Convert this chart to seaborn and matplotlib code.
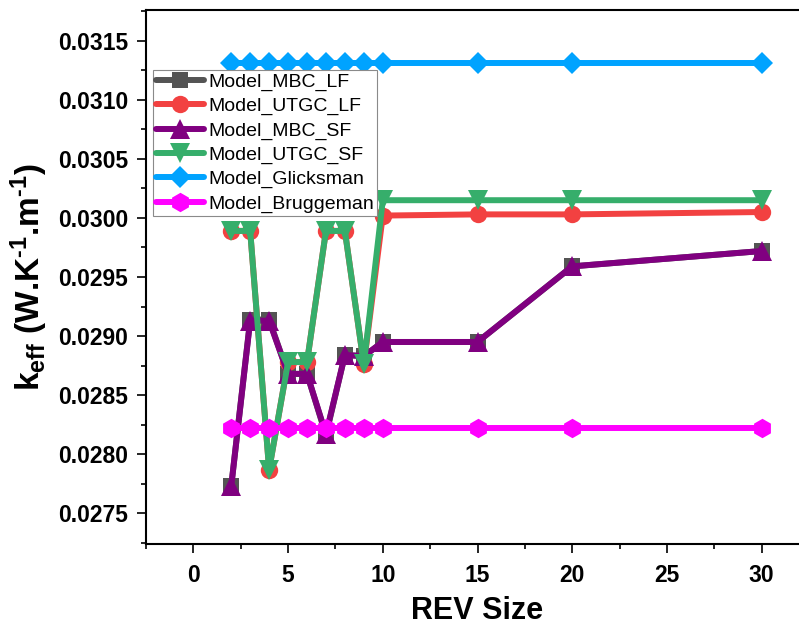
import numpy as np
import pandas as pd
import matplotlib
matplotlib.use("Agg")
import matplotlib.pyplot as plt
from matplotlib.ticker import AutoMinorLocator, FormatStrFormatter
import seaborn as sns

# REV sizes and effective conductivity of each model
rev_size = [2, 3, 4, 5, 6, 7, 8, 9, 10, 15, 20, 30]

model_mbc_lf = [0.02773, 0.02914, 0.02914, 0.02868, 0.02868, 0.02816, 0.02884, 0.02883, 0.02895, 0.02895, 0.02959, 0.02972]
model_utgc_lf = [0.02989, 0.02989, 0.02787, 0.02878, 0.02878, 0.02989, 0.02989, 0.02876, 0.03002, 0.03003, 0.03003, 0.03005]
model_mbc_sf = [0.02773, 0.02913, 0.02913, 0.02868, 0.02868, 0.02817, 0.02884, 0.02883, 0.02895, 0.02895, 0.02959, 0.02972]
model_utgc_sf = [0.02989, 0.02989, 0.02787, 0.02878, 0.02878, 0.02989, 0.02989, 0.02876, 0.03015, 0.03015, 0.03015, 0.03015]
model_glicksman = [0.03131] * 12
model_bruggeman = [0.02822] * 12

series_names = ["Model_MBC_LF", "Model_UTGC_LF", "Model_MBC_SF",
                "Model_UTGC_SF", "Model_Glicksman", "Model_Bruggeman"]
series_values = [model_mbc_lf, model_utgc_lf, model_mbc_sf,
                 model_utgc_sf, model_glicksman, model_bruggeman]
colors = ["#545454", "#F24141", "#800080", "#36AE6B", "#00A3FF", "#FF00FF"]
markers = ["s", "o", "^", "v", "D", "h"]
marker_sizes = [12, 12.5, 14, 14, 11.5, 14]

y_ticks = [0.0275, 0.0280, 0.0285, 0.0290, 0.0295, 0.0300, 0.0305, 0.0310, 0.0315]
x_ticks = [0, 5, 10, 15, 20, 25, 30]

df = pd.DataFrame({
    "REV Size": rev_size * len(series_names),
    "keff": np.concatenate(series_values),
    "Model": np.repeat(series_names, len(rev_size)),
})

sns.set_style("ticks")
plt.rcParams["font.family"] = ["Liberation Sans", "DejaVu Sans"]
plt.rcParams["mathtext.fontset"] = "custom"
plt.rcParams["mathtext.bf"] = "Liberation Sans:bold"
plt.rcParams["mathtext.rm"] = "Liberation Sans:bold"
plt.rcParams["mathtext.default"] = "bf"
plt.rcParams["text.color"] = "black"
plt.rcParams["axes.labelcolor"] = "black"
plt.rcParams["xtick.color"] = "black"
plt.rcParams["ytick.color"] = "black"

W, H = 799, 633
fig = plt.figure(figsize=(W / 100, H / 100), dpi=100)
ax = fig.add_axes([146 / W, 1 - 544 / H, (809 - 146) / W, 534 / H])

for name, col, mk, ms in zip(series_names, colors, markers, marker_sizes):
    sub = df[df["Model"] == name]
    sns.lineplot(data=sub, x="REV Size", y="keff", ax=ax, color=col,
                 marker=mk, markersize=ms, markeredgewidth=0,
                 linewidth=4.3, label=name, estimator=None, sort=False)

ax.set_xlim(-2.5, 32.5)
ax.set_ylim(0.02724, 0.03176)
ax.set_xticks(x_ticks)
ax.xaxis.set_minor_locator(AutoMinorLocator(2))
ax.set_yticks(y_ticks)
ax.yaxis.set_minor_locator(AutoMinorLocator(2))
ax.yaxis.set_major_formatter(FormatStrFormatter("%.4f"))

ax.tick_params(axis="both", which="major", direction="out", length=6.7, width=1.2,
               labelsize=16.5, colors="black")
ax.tick_params(axis="x", which="major", pad=8)
ax.tick_params(axis="y", which="major", pad=6)
ax.tick_params(axis="both", which="minor", direction="out", length=3.8, width=1.2,
               colors="black")
for lab in ax.get_xticklabels() + ax.get_yticklabels():
    lab.set_fontweight("bold")
    lab.set_color("black")

for side in ["left", "bottom", "top", "right"]:
    ax.spines[side].set_visible(True)
    ax.spines[side].set_linewidth(1.5)
    ax.spines[side].set_color("black")

ax.set_xlabel("REV Size", fontsize=22, fontweight="bold", labelpad=6, color="black")
ax.set_ylabel(r"k$_{eff}$ (W.K$^{\text{-1}}$.m$^{\text{-1}}$)", fontsize=24,
              fontweight="bold", labelpad=6, color="black")

leg = ax.legend(loc="upper left", bbox_to_anchor=(152.7 / W, 1 - 70 / H),
                bbox_transform=fig.transFigure, borderaxespad=0,
                fontsize=14, frameon=True, fancybox=False, framealpha=1,
                edgecolor="#8a8a8a", borderpad=0.15, labelspacing=0.34,
                handlelength=2.5, handletextpad=0.2)
leg.get_frame().set_linewidth(0.8)
for t in leg.get_texts():
    t.set_color("black")

fig.savefig("out.png", dpi=100)
